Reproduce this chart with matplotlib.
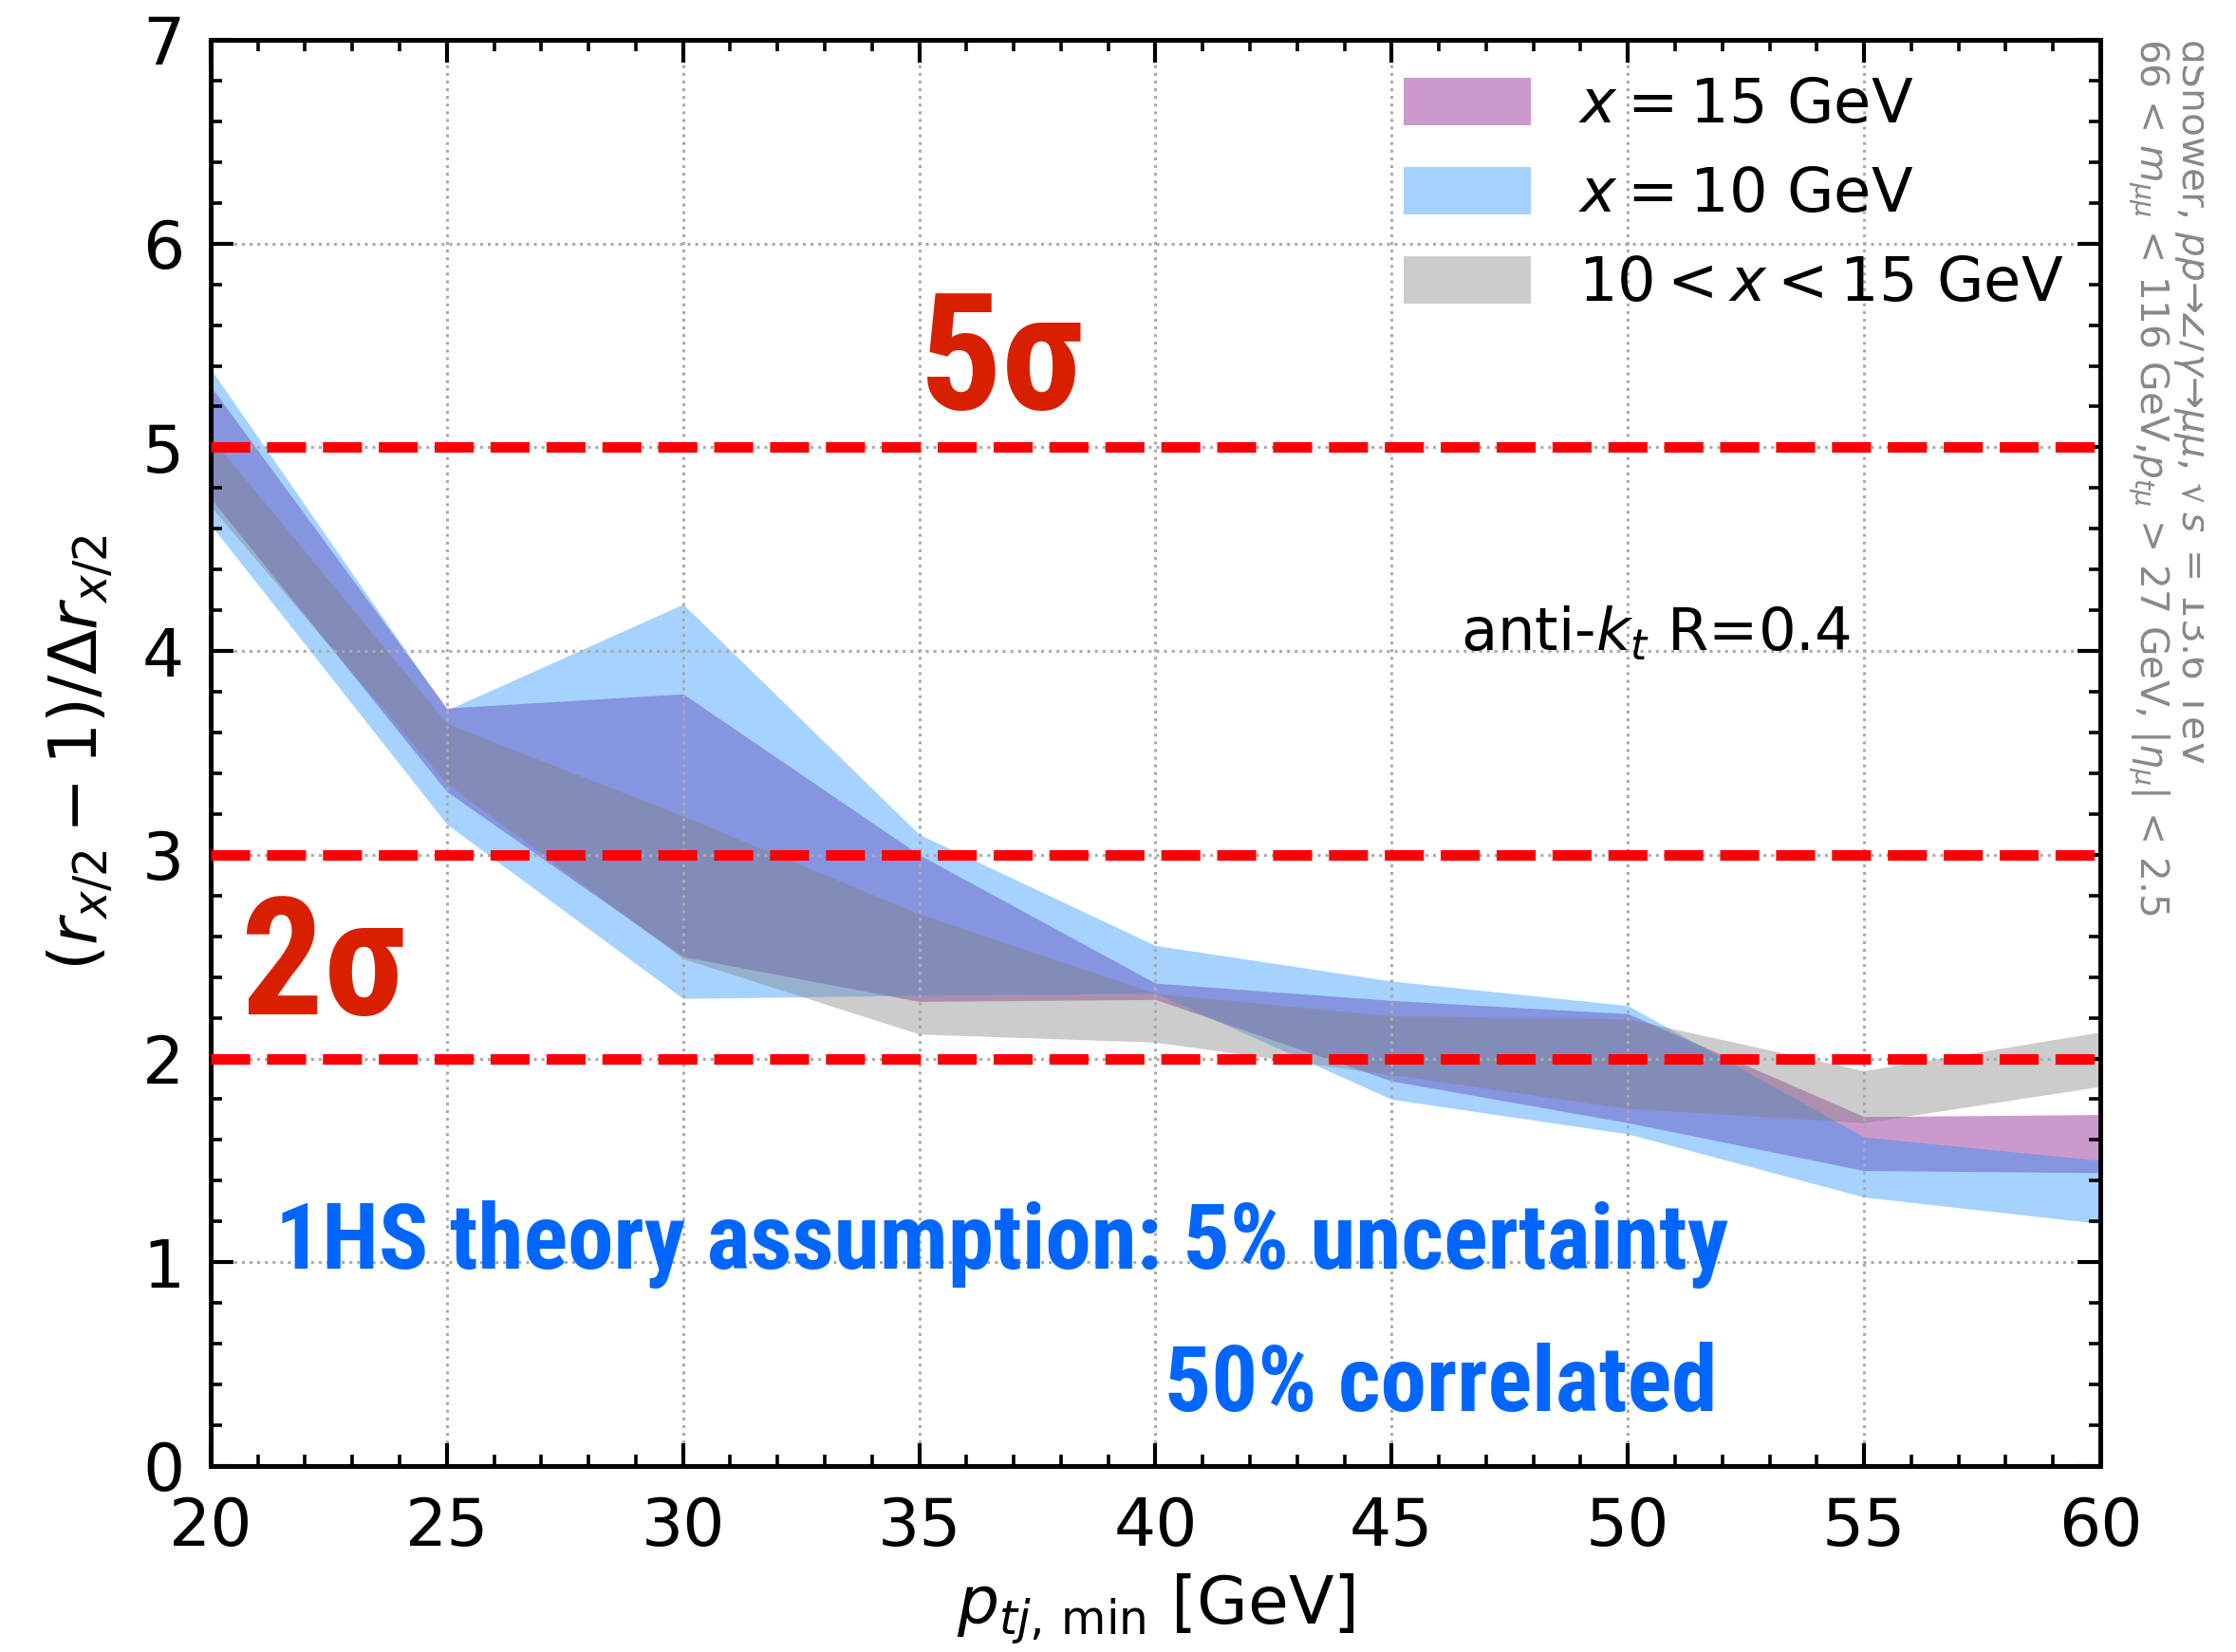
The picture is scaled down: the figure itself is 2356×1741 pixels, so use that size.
"""Significance of the r_{x/2} ratio vs. minimum track-jet pT"""
import numpy as np
import matplotlib
matplotlib.use('Agg')
import matplotlib.pyplot as plt
from matplotlib import font_manager
from matplotlib.patches import Rectangle
from matplotlib.ticker import MultipleLocator

# p_tj,min scan points [GeV]
pt_min = [20, 25, 30, 35, 40, 45, 50, 55, 60]

# x = 15 GeV band
x15_lo = [4.75, 3.31, 2.50, 2.28, 2.29, 1.89, 1.685, 1.45, 1.44]
x15_hi = [5.30, 3.72, 3.79, 3.00, 2.37, 2.285, 2.22, 1.715, 1.725]

# x = 10 GeV band
x10_lo = [4.62, 3.15, 2.295, 2.31, 2.32, 1.80, 1.63, 1.32, 1.19]
x10_hi = [5.385, 3.71, 4.23, 3.10, 2.555, 2.38, 2.26, 1.615, 1.50]

# 10 < x < 15 GeV envelope
xrange_lo = [4.71, 3.35, 2.49, 2.12, 2.08, 1.92, 1.755, 1.685, 1.863]
xrange_hi = [5.05, 3.645, 3.19, 2.71, 2.32, 2.21, 2.195, 1.94, 2.13]

band_labels = ['$x = 15$ GeV', '$x = 10$ GeV', '$10 < x < 15$ GeV']
band_colors = ['purple', 'dodgerblue', 'gray']

sigma_levels = [5, 3, 2]


def _pick_condensed():
    names = {f.name for f in font_manager.fontManager.ttflist}
    for cand in ['Roboto Condensed', 'Liberation Sans Narrow',
                 'DejaVu Sans Condensed', 'Open Sans Condensed']:
        if cand in names:
            return [cand, 'DejaVu Sans']
    return ['DejaVu Sans']


def create_plot():
    cond = _pick_condensed()

    fig = plt.figure(figsize=(11.78, 8.705), dpi=200)
    ax = fig.add_axes([0.0942, 0.1126, 0.8451, 0.8633])

    bands = [(x15_lo, x15_hi), (x10_lo, x10_hi), (xrange_lo, xrange_hi)]
    for (lo, hi), col, lab in zip(bands, band_colors, band_labels):
        ax.fill_between(pt_min, lo, hi, color=col, alpha=0.4, lw=0, label=lab)

    for lvl in sigma_levels:
        ax.axhline(lvl, color='red', linestyle='--', linewidth=4, zorder=3)

    ax.set_xlim(20, 60)
    ax.set_ylim(0, 7)
    ax.xaxis.set_major_locator(MultipleLocator(5))
    ax.xaxis.set_minor_locator(MultipleLocator(1))
    ax.yaxis.set_major_locator(MultipleLocator(1))
    ax.yaxis.set_minor_locator(MultipleLocator(0.2))
    ax.tick_params(which='both', direction='in', top=True, right=True)
    ax.tick_params(which='major', length=8.6, width=1.5, labelsize=25)
    ax.tick_params(which='minor', length=4.3, width=1.3)
    ax.tick_params(axis='x', which='major', pad=11)
    ax.tick_params(axis='y', which='major', pad=10)
    for sp in ax.spines.values():
        sp.set_linewidth(1.8)
    ax.grid(True, which='major', color='#aaaaaa', linestyle=':', linewidth=1.1)

    ax.set_xlabel(r'$p_{tj,\,\mathrm{min}}$ [GeV]', fontsize=25, labelpad=5)
    ax.set_ylabel(r'$(r_{x/2} - 1)/\Delta r_{x/2}$', fontsize=25, labelpad=10)

    ax.legend(loc='upper right', bbox_to_anchor=(1.0, 1.0), frameon=False,
              fontsize=23, handlelength=2.11, handleheight=0.81,
              handletextpad=0.78, labelspacing=0.5, borderaxespad=0.2)

    # significance labels
    red = '#d82000'
    ax.text(36.75, 5.41, r'5σ', color=red, fontsize=62, fontweight='bold',
            family=cond, ha='center', va='center')
    ax.text(22.4, 2.44, r'2σ', color=red, fontsize=62, fontweight='bold',
            family=cond, ha='center', va='center')

    blue = '#0066ff'
    ax.text(21.36, 0.97, '1HS theory assumption: 5% uncertainty', color=blue,
            fontsize=35, fontweight='bold', family=cond, ha='left', va='baseline')
    ax.text(51.9, 0.27, '50% correlated', color=blue,
            fontsize=35, fontweight='bold', family=cond, ha='right', va='baseline')

    ax.text(46.45, 4.0, r'anti-$k_t$ R=0.4', fontsize=22.5, ha='left', va='baseline')

    # generator / cuts note along the right edge, trimmed at the margin
    note = fig.text(0.9508, 0.977,
                    'dShower, $pp$→$Z/\\gamma$→$\\mu\\mu$, $\\sqrt{s}$ = 13.6 TeV\n'
                    '66 < $m_{\\mu\\mu}$ < 116 GeV,$p_{t\\mu}$ > 27 GeV, $|\\eta_{\\mu}|$ < 2.5',
                    rotation=-90, color='#888888', fontsize=14.7,
                    ha='left', va='top', multialignment='left', linespacing=1.0)
    note.set_clip_path(Rectangle((0, 0), 0.9856, 1, transform=fig.transFigure))

    fig.savefig('out.png', dpi=200)
    plt.close(fig)


if __name__ == '__main__':
    create_plot()
